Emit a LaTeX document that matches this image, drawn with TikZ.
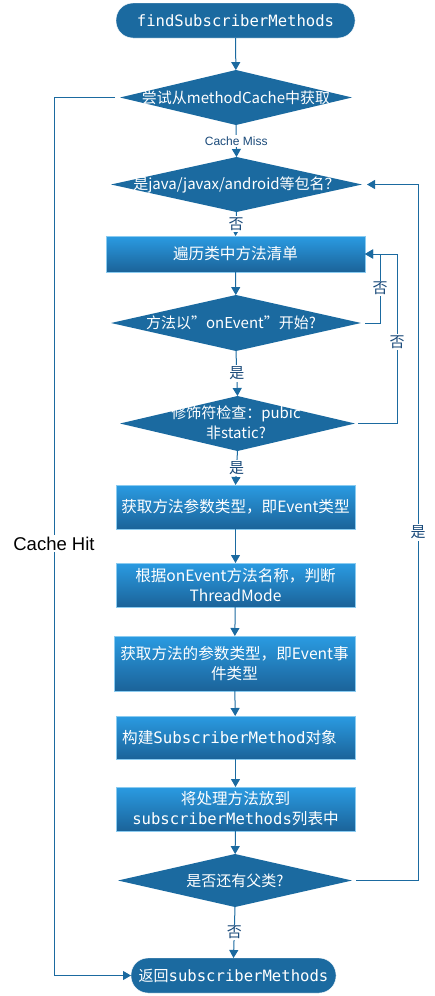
\documentclass[tikz,border=0pt]{standalone}
\usepackage{fontspec}
\setmainfont{Noto Sans CJK SC}
\newfontfamily\monof{DejaVu Sans Mono}
\newfontfamily\arialf{Liberation Sans}
\usetikzlibrary{shapes.geometric,arrows.meta}
\definecolor{dblue}{HTML}{1B6AA0}
\definecolor{ltop}{HTML}{2A9BE2}
\definecolor{lbot}{HTML}{1B6399}
\definecolor{lborder}{HTML}{8ACBF0}
\definecolor{labc}{HTML}{1A4A7A}
\tikzset{
  term/.style={rectangle, rounded corners=17pt, fill=dblue, draw=white, text=white, inner sep=0pt, outer sep=0pt, font=\fontsize{15}{20}\selectfont},
  dia/.style={diamond, fill=dblue, draw=none, inner sep=0pt, outer sep=0pt},
  diatxt/.style={text=white, align=center, font=\fontsize{15}{20}\selectfont, inner sep=0pt},
  gbox/.style={rectangle, top color=ltop, bottom color=lbot, draw=lborder, line width=0.8pt, text=white, align=center, inner sep=0pt, outer sep=0pt, font=\fontsize{15.6}{20}\selectfont},
  arr/.style={draw=dblue, line width=1pt, -{Triangle[width=9pt,length=8pt]}},
  lab/.style={fill=white, text=labc, inner sep=1.5pt, font=\fontsize{15}{18}\selectfont},
  smlab/.style={fill=white, text=labc, inner sep=1.5pt, font=\arialf\fontsize{12}{14}\selectfont},
  hitlab/.style={fill=white, text=black, inner sep=2pt, font=\arialf\fontsize{18.5}{22}\selectfont}
}
\begin{document}
\begin{tikzpicture}[x=1pt,y=-1pt]
\useasboundingbox (0,0) rectangle (435,996);
% terminators
\node[term, minimum width=239pt, minimum height=35pt] (start) at (235.5,20.5) {\monof\fontsize{15.6}{20}\selectfont findSubscriberMethods};
\node[term, minimum width=205pt, minimum height=35pt] (stop) at (233.5,975.5) {返回{\monof\fontsize{15.6}{20}\selectfont subscriberMethods}};
% diamonds
\node[dia, minimum width=232pt, minimum height=55pt] (d1) at (236,97.5) {};
\node[diatxt] at (d1) {尝试从methodCache中获取};
\node[dia, minimum width=251pt, minimum height=55pt] (d2) at (236.5,184.5) {};
\node[diatxt] at (d2) {是java/javax/android等包名？};
\node[dia, minimum width=250pt, minimum height=56pt] (d3) at (236,323) {};
\node[diatxt] at ([xshift=-5pt]d3.center) {方法以”onEvent”开始?};
\node[dia, minimum width=235pt, minimum height=55pt] (d4) at (237.5,423.5) {};
\node[diatxt] at (236,423) {修饰符检查：pubic\\非static?};
\node[dia, minimum width=234pt, minimum height=53pt] (d5) at (235,880.5) {};
\node[diatxt] at (d5) {是否还有父类?};
% boxes
\node[gbox, minimum width=259pt, minimum height=36pt] (b1) at (235.5,254) {遍历类中方法清单};
\node[gbox, minimum width=239pt, minimum height=44pt] (b2) at (235.5,507) {获取方法参数类型，即Event类型};
\node[gbox, minimum width=239pt, minimum height=44pt] (b3) at (235.5,585) {根据onEvent方法名称，判断\\ThreadMode};
\node[gbox, minimum width=241pt, minimum height=55pt] (b4) at (234.5,663.5) {获取方法的参数类型，即Event事\\件类型};
\node[gbox, minimum width=239pt, minimum height=43pt] (b5) at (235.5,737.5) {};
\node[text=white, inner sep=0pt, font=\fontsize{15.6}{20}\selectfont] at ([xshift=-6pt]b5.center) {构建{\monof\fontsize{15.8}{20}\selectfont SubscriberMethod}对象};
\node[gbox, minimum width=239pt, minimum height=44pt] (b6) at (235.5,809) {将处理方法放到\\{\monof\fontsize{15.6}{20}\selectfont subscriberMethods}列表中};
% main flow
\draw[arr] (start) -- (d1);
\draw[arr] (d1.south) -- node[smlab] {Cache Miss} (d2.north);
\draw[arr] (d2.south) -- node[lab] {否} (b1.north);
\draw[arr] (b1) -- (d3);
\draw[arr] (d3.south) -- node[lab] {是} (d4.north);
\draw[arr] (d4.south) -- node[lab] {是} (b2.north);
\draw[arr] (b2) -- (b3);
\draw[arr] (b3) -- (b4);
\draw[arr] (b4) -- (b5);
\draw[arr] (b5) -- (b6);
\draw[arr] (b6) -- (d5);
\draw[arr] (d5.south) -- node[lab] {否} (stop.north);
% loops
\draw[arr] ([xshift=4pt]d3.east) -| node[lab, pos=0.75] {否} ([xshift=15pt]b1.east) -- (b1.east);
\draw[arr] ([xshift=3pt]d4.east) -| node[lab, pos=0.74] {否} ([xshift=32pt]b1.east) -- (b1.east);
\draw[arr] ([xshift=4pt]d5.east) -| node[lab, pos=0.75] {是} ([xshift=56pt]d2.east) -- ([xshift=5pt]d2.east);
\draw[arr] ([xshift=-5pt]d1.west) -- ++(-61,0) |- node[hitlab, pos=0.254] {Cache Hit} (stop.west);
\end{tikzpicture}
\end{document}
